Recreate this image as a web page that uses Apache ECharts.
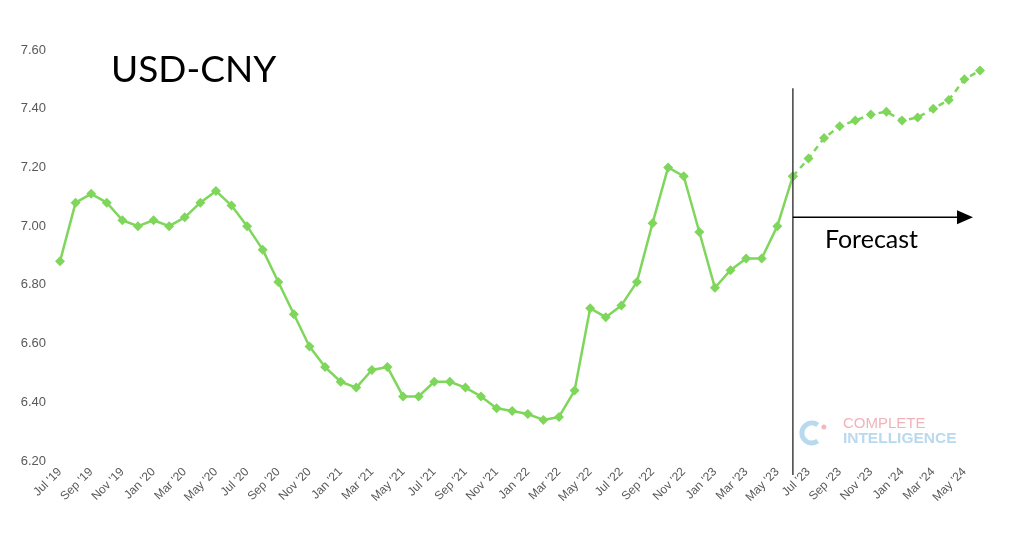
<!DOCTYPE html>
<html>
<head>
<meta charset="utf-8">
<script src="https://cdn.jsdelivr.net/npm/echarts@6/dist/echarts.min.js"></script>
<style>
html,body{margin:0;padding:0;background:#fff;}
#main{width:1024px;height:549px;}
</style>
</head>
<body>
<div id="main"></div>
<script>
const categories = [
 "Jul '19","Aug '19","Sep '19","Oct '19","Nov '19","Dec '19",
 "Jan '20","Feb '20","Mar '20","Apr '20","May '20","Jun '20","Jul '20","Aug '20","Sep '20","Oct '20","Nov '20","Dec '20",
 "Jan '21","Feb '21","Mar '21","Apr '21","May '21","Jun '21","Jul '21","Aug '21","Sep '21","Oct '21","Nov '21","Dec '21",
 "Jan '22","Feb '22","Mar '22","Apr '22","May '22","Jun '22","Jul '22","Aug '22","Sep '22","Oct '22","Nov '22","Dec '22",
 "Jan '23","Feb '23","Mar '23","Apr '23","May '23","Jun '23","Jul '23","Aug '23","Sep '23","Oct '23","Nov '23","Dec '23",
 "Jan '24","Feb '24","Mar '24","Apr '24","May '24","Jun '24"
];
// Actual values Jul '19 .. Jun '23
const actual = [
 6.88,7.08,7.11,7.08,7.02,7.00,
 7.02,7.00,7.03,7.08,7.12,7.07,7.00,6.92,6.81,6.70,6.59,6.52,
 6.47,6.45,6.51,6.52,6.42,6.42,6.47,6.47,6.45,6.42,6.38,6.37,
 6.36,6.34,6.35,6.44,6.72,6.69,6.73,6.81,7.01,7.20,7.17,6.98,
 6.79,6.85,6.89,6.89,7.00,7.17
];
// Forecast values Jul '23 .. Jun '24
const forecast = [7.23,7.30,7.34,7.36,7.38,7.39,7.36,7.37,7.40,7.43,7.50,7.53];
const yTicks = {min:6.2, max:7.6, interval:0.2};
const titleText = "USD-CNY";
const forecastLabel = "Forecast";
const splitCategory = "Jun '23";

const green = '#7ed65a';
const actualSeries = categories.map((c,i)=> i < actual.length ? actual[i] : null);
const forecastSeries = categories.map((c,i)=>{
  if (i === actual.length-1) return actual[i];
  if (i >= actual.length) return forecast[i-actual.length];
  return null;
});

const chart = echarts.init(document.getElementById('main'));
const option = {
  backgroundColor:'#fff',
  animation:false,
  grid:{left:60,right:44,top:50,bottom:88,containLabel:false},
  xAxis:{
    type:'category',
    data:categories,
    boundaryGap:false,
    axisLine:{show:false},
    axisTick:{show:false},
    axisLabel:{interval:1,rotate:45,color:'#595959',fontFamily:'Liberation Sans, Arial',fontSize:12,margin:9}
  },
  yAxis:{
    type:'value',
    min:yTicks.min,max:yTicks.max,interval:yTicks.interval,
    axisLine:{show:false},axisTick:{show:false},
    splitLine:{show:false},
    axisLabel:{color:'#595959',fontFamily:'Liberation Sans, Arial',fontSize:13,margin:14,formatter:v=>v.toFixed(2)}
  },
  series:[
    {type:'line',data:actualSeries,symbol:'diamond',symbolSize:10,
     lineStyle:{color:green,width:2.5},itemStyle:{color:green},connectNulls:false,z:3},
    {type:'line',data:forecastSeries,symbol:'diamond',symbolSize:10,
     lineStyle:{color:green,width:2.5,type:[6,5]},itemStyle:{color:green},z:2}
  ]
};
chart.setOption(option);

const xs = chart.convertToPixel({xAxisIndex:0}, splitCategory);
const xEnd = chart.convertToPixel({xAxisIndex:0}, categories[categories.length-1]);
const yArrow = chart.convertToPixel({yAxisIndex:0}, 7.03);
const yTop = chart.convertToPixel({yAxisIndex:0}, 7.47);
const yBottom = chart.convertToPixel({yAxisIndex:0}, 6.20) + 14;
const tipX = xEnd - 7;

chart.setOption({
  graphic:[
    {type:'text',left:111,top:52,style:{text:titleText,fontFamily:'Lato, Open Sans, sans-serif',fontSize:37,fill:'#000'}},
    {type:'line',shape:{x1:xs,y1:yTop,x2:xs,y2:yBottom},style:{stroke:'#404040',lineWidth:1.5},z:10},
    {type:'line',shape:{x1:xs,y1:yArrow,x2:tipX-14,y2:yArrow},style:{stroke:'#000',lineWidth:1.5},z:10},
    {type:'polygon',shape:{points:[[tipX-16,yArrow-7],[tipX,yArrow],[tipX-16,yArrow+7]]},style:{fill:'#000'},z:10},
    {type:'text',x:xs+32,y:yArrow+10,style:{text:forecastLabel,fontFamily:'Lato, Open Sans, sans-serif',fontSize:25,fill:'#000'},z:10},
    {type:'arc',shape:{cx:xs+19,cy:433,r:10,startAngle:Math.PI*0.3,endAngle:Math.PI*1.7},style:{stroke:'#b9d9ee',lineWidth:5,fill:null},z:1},
    {type:'circle',shape:{cx:xs+31,cy:427,r:2.5},style:{fill:'#f2b8bf'},z:1},
    {type:'text',x:xs+50,y:416,style:{text:'COMPLETE',fontFamily:'Liberation Sans, Arial',fontSize:15,fill:'#f0b3bb'},z:1},
    {type:'text',x:xs+50,y:431,style:{text:'INTELLIGENCE',fontFamily:'Liberation Sans, Arial',fontSize:15.5,fontWeight:'bold',fill:'#b9d9ee'},z:1}
  ]
});
</script>
</body>
</html>
